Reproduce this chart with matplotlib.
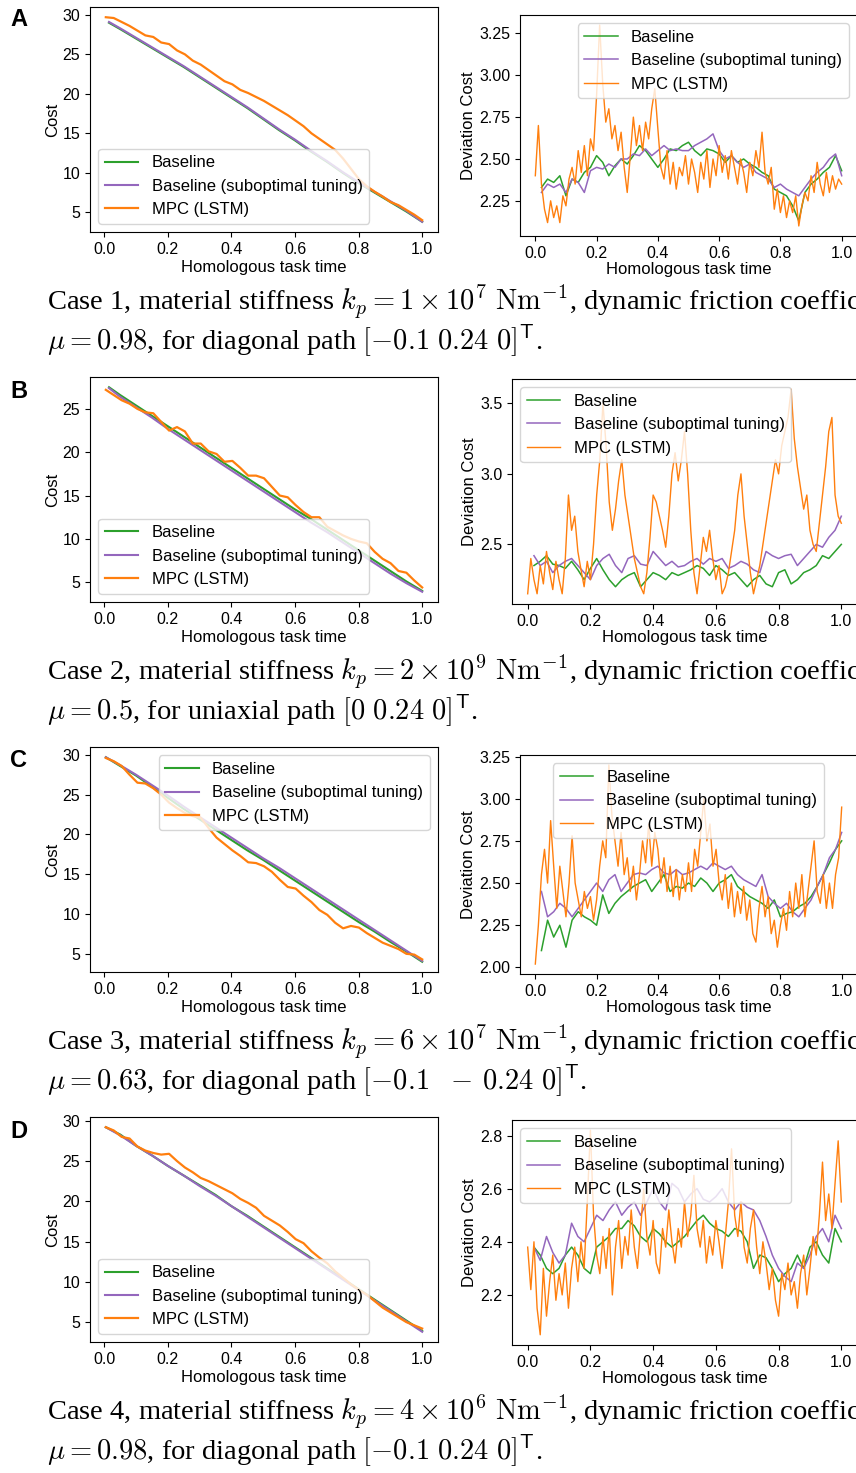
import numpy as np
import matplotlib.pyplot as plt

plt.rcParams['font.family'] = ['Liberation Sans', 'DejaVu Sans']
plt.rcParams['mathtext.fontset'] = 'cm'

# ---------------- data ----------------
labels = ["Baseline", "Baseline (suboptimal tuning)", "MPC (LSTM)"]
colors = ["#2ca02c", "#9467bd", "#ff7f0e"]

x_ticks = [0.0, 0.2, 0.4, 0.6, 0.8, 1.0]
cost_ticks = [5, 10, 15, 20, 25, 30]
cost_ticks_b = [5, 10, 15, 20, 25]
dev_ticks_a = [2.25, 2.50, 2.75, 3.00, 3.25]
dev_ticks_b = [2.5, 3.0, 3.5]
dev_ticks_c = [2.00, 2.25, 2.50, 2.75, 3.00, 3.25]
dev_ticks_d = [2.2, 2.4, 2.6, 2.8]

# time axes (homologous task time)
t_cost_base_ab = np.array([0.015] + [0.05 * i for i in range(1, 21)])
t_cost_base_cd = np.array([0.005] + [0.05 * i for i in range(1, 21)])
t_cost_mpc = np.linspace(0.005, 1.0, 41)
t_dev_base = np.arange(1, 51) * 0.02
t_dev_mpc = np.arange(0, 101) * 0.01

# case 1
cost_a_base = [29.0, 28.2, 27.0, 25.8, 24.6, 23.4, 22.1, 20.8, 19.5, 18.2, 16.8,
               15.4, 14.1, 12.7, 11.4, 10.0, 8.7, 7.5, 6.3, 5.1, 3.8]
cost_a_sub = [29.1, 28.3, 27.1, 25.9, 24.7, 23.5, 22.2, 20.9, 19.6, 18.3, 16.9,
              15.5, 14.2, 12.8, 11.5, 10.1, 8.8, 7.6, 6.4, 5.2, 3.8]
cost_a_mpc = [29.7, 29.6, 29.1, 28.6, 28.0, 27.4, 27.2, 26.5, 26.3, 25.5, 25.0,
              24.2, 23.7, 23.0, 22.3, 21.6, 21.2, 20.5, 20.1, 19.6, 19.1, 18.5,
              17.9, 17.3, 16.6, 15.9, 15.0, 14.3, 13.6, 12.9, 11.8, 10.5, 9.2,
              8.3, 7.6, 7.0, 6.3, 5.9, 5.3, 4.7, 4.0]
dev_a_base = [2.33, 2.38, 2.36, 2.40, 2.28, 2.38, 2.36, 2.42, 2.45, 2.52,
              2.48, 2.40, 2.46, 2.50, 2.47, 2.52, 2.58, 2.55, 2.50, 2.45,
              2.50, 2.56, 2.55, 2.58, 2.60, 2.55, 2.52, 2.56, 2.55, 2.53,
              2.48, 2.52, 2.48, 2.50, 2.47, 2.45, 2.42, 2.40, 2.32, 2.30,
              2.28, 2.22, 2.13, 2.30, 2.35, 2.38, 2.42, 2.45, 2.52, 2.43]
dev_a_sub = [2.30, 2.35, 2.33, 2.35, 2.30, 2.38, 2.36, 2.30, 2.43, 2.45,
             2.44, 2.47, 2.45, 2.50, 2.50, 2.53, 2.52, 2.56, 2.52, 2.55,
             2.58, 2.55, 2.56, 2.55, 2.55, 2.58, 2.60, 2.62, 2.65, 2.55,
             2.50, 2.52, 2.48, 2.45, 2.47, 2.42, 2.40, 2.38, 2.33, 2.35,
             2.32, 2.30, 2.28, 2.33, 2.38, 2.42, 2.45, 2.50, 2.53, 2.40]
dev_a_mpc = [2.40, 2.70, 2.35, 2.20, 2.12, 2.25, 2.15, 2.22, 2.12, 2.28,
             2.22, 2.38, 2.45, 2.35, 2.55, 2.42, 2.58, 2.40, 2.62, 2.55,
             2.88, 3.30, 2.95, 2.72, 2.80, 2.62, 2.70, 2.55, 2.66, 2.45,
             2.30, 2.52, 2.75, 2.58, 2.70, 2.55, 2.72, 2.62, 2.80, 2.92,
             2.68, 2.45, 2.38, 2.55, 2.35, 2.48, 2.32, 2.45, 2.40, 2.52,
             2.35, 2.50, 2.42, 2.30, 2.48, 2.38, 2.55, 2.33, 2.50, 2.40,
             2.58, 2.42, 2.52, 2.38, 2.55, 2.45, 2.35, 2.50, 2.42, 2.30,
             2.48, 2.40, 2.55, 2.45, 2.66, 2.42, 2.35, 2.45, 2.20, 2.32,
             2.18, 2.28, 2.15, 2.25, 2.18, 2.28, 2.10, 2.22, 2.30, 2.25,
             2.40, 2.30, 2.48, 2.35, 2.28, 2.42, 2.30, 2.40, 2.32, 2.38, 2.35]

# case 2
cost_b_base = [27.5, 26.6, 25.4, 24.2, 23.0, 21.8, 20.6, 19.4, 18.2, 17.0, 15.8,
               14.6, 13.4, 12.3, 11.1, 9.9, 8.7, 7.5, 6.3, 5.1, 4.0]
cost_b_sub = [27.4, 26.4, 25.2, 24.0, 22.7, 21.5, 20.3, 19.1, 17.9, 16.7, 15.5,
              14.3, 13.1, 11.9, 10.8, 9.6, 8.4, 7.2, 6.0, 4.9, 3.9]
cost_b_mpc = [27.2, 26.6, 26.0, 25.6, 25.0, 24.6, 24.5, 23.5, 22.5, 22.9, 22.4,
              21.0, 21.0, 20.1, 19.8, 18.9, 19.0, 18.2, 17.3, 17.3, 17.0, 16.0,
              15.0, 14.8, 13.9, 13.1, 12.5, 12.5, 11.4, 10.9, 10.4, 10.0, 9.7,
              9.5, 8.5, 7.7, 7.2, 6.3, 6.1, 5.2, 4.4]
dev_b_base = [2.35, 2.38, 2.42, 2.36, 2.35, 2.33, 2.38, 2.32, 2.25, 2.33,
              2.40, 2.32, 2.25, 2.20, 2.25, 2.28, 2.30, 2.20, 2.25, 2.30,
              2.28, 2.25, 2.30, 2.28, 2.30, 2.32, 2.35, 2.33, 2.28, 2.35,
              2.32, 2.28, 2.30, 2.25, 2.20, 2.25, 2.28, 2.22, 2.20, 2.30,
              2.32, 2.22, 2.25, 2.30, 2.32, 2.35, 2.42, 2.40, 2.45, 2.50]
dev_b_sub = [2.42, 2.35, 2.38, 2.30, 2.35, 2.38, 2.40, 2.35, 2.30, 2.25,
             2.35, 2.40, 2.43, 2.35, 2.30, 2.40, 2.42, 2.36, 2.35, 2.45,
             2.40, 2.35, 2.38, 2.34, 2.35, 2.38, 2.40, 2.36, 2.40, 2.38,
             2.40, 2.33, 2.35, 2.38, 2.36, 2.32, 2.30, 2.45, 2.42, 2.40,
             2.42, 2.43, 2.35, 2.40, 2.45, 2.50, 2.48, 2.55, 2.60, 2.70]
dev_b_mpc = [2.15, 2.40, 2.25, 2.15, 2.35, 2.22, 2.45, 2.30, 2.18, 2.38,
             2.25, 2.15, 2.40, 2.85, 2.60, 2.70, 2.45, 2.32, 2.20, 2.38,
             2.25, 2.50, 2.85, 3.10, 3.50, 3.20, 2.80, 2.60, 2.75, 2.95,
             3.10, 2.85, 2.70, 2.55, 2.40, 2.30, 2.20, 2.15, 2.30, 2.55,
             2.85, 2.80, 2.70, 2.60, 2.48, 2.70, 3.00, 3.15, 2.95, 3.10,
             3.30, 3.00, 2.60, 2.30, 2.15, 2.35, 2.55, 2.45, 2.60, 2.40,
             2.25, 2.35, 2.15, 2.20, 2.30, 2.45, 2.60, 2.85, 3.00, 2.70,
             2.50, 2.30, 2.15, 2.25, 2.35, 2.50, 2.65, 2.80, 2.95, 3.10,
             3.00, 3.20, 3.30, 3.40, 3.60, 3.25, 3.05, 2.90, 2.75, 2.85,
             2.60, 2.50, 2.45, 2.65, 2.85, 3.05, 3.30, 3.40, 2.85, 2.70, 2.65]

# case 3
cost_c_base = [29.7, 28.6, 27.4, 26.0, 24.6, 23.2, 21.9, 20.6, 19.3, 18.0, 16.8,
               15.5, 14.2, 12.9, 11.6, 10.3, 9.0, 7.8, 6.5, 5.3, 4.0]
cost_c_sub = [29.7, 28.7, 27.5, 26.2, 24.9, 23.5, 22.2, 20.9, 19.6, 18.3, 17.0,
              15.8, 14.5, 13.2, 11.9, 10.6, 9.3, 8.0, 6.7, 5.4, 4.1]
cost_c_mpc = [29.6, 29.2, 28.6, 27.5, 26.5, 26.4, 25.8, 25.0, 24.0, 23.3, 22.7,
              22.3, 22.1, 20.8, 19.6, 18.8, 18.0, 17.3, 16.5, 16.4, 16.0, 15.3,
              14.3, 13.4, 13.2, 12.3, 11.5, 10.5, 9.9, 8.9, 8.2, 8.5, 8.3, 7.6,
              7.0, 6.4, 6.0, 5.6, 5.0, 4.9, 4.3]
dev_c_base = [2.10, 2.28, 2.18, 2.25, 2.12, 2.28, 2.33, 2.30, 2.28, 2.25,
              2.43, 2.32, 2.38, 2.42, 2.45, 2.48, 2.50, 2.52, 2.45, 2.50,
              2.55, 2.45, 2.48, 2.47, 2.50, 2.48, 2.53, 2.50, 2.45, 2.50,
              2.52, 2.55, 2.48, 2.45, 2.42, 2.40, 2.38, 2.35, 2.40, 2.30,
              2.32, 2.33, 2.36, 2.38, 2.42, 2.48, 2.55, 2.62, 2.70, 2.75]
dev_c_sub = [2.45, 2.30, 2.33, 2.38, 2.35, 2.30, 2.35, 2.40, 2.45, 2.50,
             2.45, 2.52, 2.55, 2.45, 2.50, 2.55, 2.56, 2.55, 2.58, 2.60,
             2.56, 2.55, 2.58, 2.55, 2.56, 2.58, 2.60, 2.58, 2.62, 2.60,
             2.58, 2.60, 2.55, 2.52, 2.50, 2.48, 2.55, 2.42, 2.38, 2.35,
             2.38, 2.33, 2.30, 2.35, 2.40, 2.48, 2.55, 2.65, 2.70, 2.80]
dev_c_mpc = [2.02, 2.25, 2.55, 2.70, 2.50, 2.87, 2.60, 2.35, 2.60, 2.45,
             2.30, 2.50, 2.78, 2.50, 2.40, 2.30, 2.45, 2.35, 2.42, 2.28,
             2.40, 2.60, 2.75, 2.65, 3.20, 2.90, 2.75, 2.60, 2.80, 2.55,
             2.65, 2.45, 2.60, 2.40, 2.55, 2.75, 2.62, 2.85, 2.60, 2.80,
             2.70, 2.50, 2.65, 2.45, 2.60, 2.42, 2.58, 2.40, 2.55, 2.45,
             2.62, 2.45, 2.70, 2.60, 2.80, 3.00, 2.75, 2.85, 2.60, 2.70,
             2.50, 2.40, 2.55, 2.35, 2.50, 2.30, 2.45, 2.32, 2.48, 2.28,
             2.40, 2.20, 2.15, 2.35, 2.48, 2.30, 2.42, 2.20, 2.28, 2.12,
             2.25, 2.35, 2.22, 2.45, 2.30, 2.50, 2.35, 2.55, 2.30, 2.45,
             2.60, 2.75, 2.45, 2.38, 2.55, 2.35, 2.50, 2.35, 2.55, 2.65, 2.95]

# case 4
cost_d_base = [29.2, 28.3, 26.9, 25.7, 24.4, 23.2, 22.0, 20.8, 19.4, 18.2, 16.9,
               15.6, 14.3, 13.0, 11.7, 10.4, 9.1, 7.8, 6.5, 5.2, 3.9]
cost_d_sub = [29.2, 28.2, 26.9, 25.7, 24.4, 23.2, 21.9, 20.7, 19.4, 18.1, 16.8,
              15.5, 14.2, 12.9, 11.6, 10.3, 9.0, 7.7, 6.4, 5.1, 3.8]
cost_d_mpc = [29.2, 28.8, 28.0, 27.8, 26.8, 26.3, 26.0, 25.8, 25.9, 25.0, 24.2,
              23.6, 22.9, 22.5, 22.0, 21.5, 21.0, 20.3, 19.8, 19.2, 18.2, 17.6,
              17.0, 16.2, 15.3, 14.8, 13.8, 13.0, 12.3, 11.3, 10.5, 9.7, 9.0,
              8.4, 7.6, 6.8, 6.2, 5.6, 5.0, 4.6, 4.2]
dev_d_base = [2.38, 2.35, 2.30, 2.28, 2.30, 2.35, 2.38, 2.35, 2.30, 2.28,
              2.38, 2.40, 2.42, 2.45, 2.45, 2.48, 2.46, 2.42, 2.40, 2.45,
              2.43, 2.40, 2.38, 2.40, 2.42, 2.45, 2.48, 2.50, 2.47, 2.45,
              2.44, 2.42, 2.45, 2.44, 2.40, 2.30, 2.35, 2.34, 2.30, 2.25,
              2.28, 2.30, 2.35, 2.30, 2.38, 2.40, 2.35, 2.32, 2.45, 2.40]
dev_d_sub = [2.38, 2.33, 2.42, 2.36, 2.32, 2.35, 2.47, 2.42, 2.40, 2.45,
             2.50, 2.48, 2.52, 2.55, 2.50, 2.53, 2.55, 2.50, 2.55, 2.60,
             2.55, 2.52, 2.62, 2.60, 2.55, 2.58, 2.60, 2.56, 2.55, 2.57,
             2.60, 2.55, 2.52, 2.55, 2.53, 2.52, 2.48, 2.42, 2.35, 2.30,
             2.27, 2.25, 2.32, 2.30, 2.35, 2.42, 2.45, 2.40, 2.50, 2.45]
dev_d_mpc = [2.38, 2.22, 2.40, 2.15, 2.05, 2.30, 2.12, 2.25, 2.35, 2.18,
             2.28, 2.20, 2.32, 2.15, 2.30, 2.38, 2.25, 2.40, 2.30, 2.55,
             2.82, 2.50, 2.35, 2.28, 2.42, 2.30, 2.45, 2.20, 2.38, 2.48,
             2.30, 2.42, 2.35, 2.52, 2.38, 2.30, 2.45, 2.60, 2.42, 2.35,
             2.48, 2.32, 2.28, 2.45, 2.38, 2.52, 2.40, 2.32, 2.45, 2.38,
             2.55, 2.42, 2.50, 2.65, 2.45, 2.38, 2.48, 2.32, 2.42, 2.35,
             2.48, 2.40, 2.30, 2.42, 2.55, 2.75, 2.50, 2.42, 2.55, 2.38,
             2.32, 2.45, 2.52, 2.38, 2.28, 2.40, 2.32, 2.22, 2.30, 2.18,
             2.12, 2.28, 2.22, 2.32, 2.20, 2.25, 2.15, 2.28, 2.35, 2.20,
             2.30, 2.42, 2.35, 2.50, 2.70, 2.48, 2.58, 2.45, 2.62, 2.78, 2.55]

captions = [
    [r"Case 1, material stiffness $k_p = 1 \times 10^7\ \mathrm{Nm}^{-1}$, dynamic friction coefficient",
     r"$\mu = 0.98$, for diagonal path $[-0.1\ 0.24\ 0]^{\mathsf{T}}$."],
    [r"Case 2, material stiffness $k_p = 2 \times 10^9\ \mathrm{Nm}^{-1}$, dynamic friction coefficient",
     r"$\mu = 0.5$, for uniaxial path $[0\ 0.24\ 0]^{\mathsf{T}}$."],
    [r"Case 3, material stiffness $k_p = 6 \times 10^7\ \mathrm{Nm}^{-1}$, dynamic friction coefficient",
     r"$\mu = 0.63$, for diagonal path $[-0.1\ \ -\,0.24\ 0]^{\mathsf{T}}$."],
    [r"Case 4, material stiffness $k_p = 4 \times 10^6\ \mathrm{Nm}^{-1}$, dynamic friction coefficient",
     r"$\mu = 0.98$, for diagonal path $[-0.1\ 0.24\ 0]^{\mathsf{T}}$."],
]
panel_letters = ["A", "B", "C", "D"]

# ---------------- layout (pixels) ----------------
W, H = 856, 1473
left_boxes = [(90, 7, 438, 232), (90, 377, 438, 602), (90, 747, 438, 972), (90, 1117, 438, 1342)]
right_boxes = [(520, 15, 857, 236), (512, 379, 857, 604), (520, 755, 857, 974), (512, 1120, 857, 1345)]
left_legend = ["lower left", "lower left", "upper right", "lower left"]
right_legend = ["upper right", "upper left", "upper center", "upper left"]
letter_y = [20, 391, 761, 1131]
caption_y = [310, 680, 1050, 1420]


def frac(box):
    l, t, r, b = box
    return [l / W, 1 - b / H, (r - l) / W, (b - t) / H]


costs = [(cost_a_base, cost_a_sub, cost_a_mpc), (cost_b_base, cost_b_sub, cost_b_mpc),
         (cost_c_base, cost_c_sub, cost_c_mpc), (cost_d_base, cost_d_sub, cost_d_mpc)]
devs = [(dev_a_base, dev_a_sub, dev_a_mpc), (dev_b_base, dev_b_sub, dev_b_mpc),
        (dev_c_base, dev_c_sub, dev_c_mpc), (dev_d_base, dev_d_sub, dev_d_mpc)]
cost_yt = [cost_ticks, cost_ticks_b, cost_ticks, cost_ticks]
dev_yt = [dev_ticks_a, dev_ticks_b, dev_ticks_c, dev_ticks_d]
base_t = [t_cost_base_ab, t_cost_base_ab, t_cost_base_cd, t_cost_base_cd]

fig = plt.figure(figsize=(W / 100, H / 100), dpi=100)

for i in range(4):
    # cost plot
    ax = fig.add_axes(frac(left_boxes[i]))
    base, sub, mpc = costs[i]
    ax.plot(base_t[i], base, color=colors[0], lw=1.5, label=labels[0])
    ax.plot(base_t[i], sub, color=colors[1], lw=1.5, label=labels[1])
    ax.plot(t_cost_mpc, mpc, color=colors[2], lw=1.6, label=labels[2])
    ax.set_xticks(x_ticks)
    ax.set_yticks(cost_yt[i])
    ax.tick_params(labelsize=11.5)
    ax.set_xlabel("Homologous task time", fontsize=12, labelpad=2.5)
    ax.set_ylabel("Cost", fontsize=12, labelpad=2)
    ax.legend(loc=left_legend[i], fontsize=12)

    # deviation plot
    ax = fig.add_axes(frac(right_boxes[i]))
    base, sub, mpc = devs[i]
    ax.plot(t_dev_base, base, color=colors[0], lw=1.1, label=labels[0])
    ax.plot(t_dev_base, sub, color=colors[1], lw=1.1, label=labels[1])
    ax.plot(t_dev_mpc, mpc, color=colors[2], lw=1.0, label=labels[2])
    ax.set_xticks(x_ticks)
    ax.set_yticks(dev_yt[i])
    ax.tick_params(labelsize=11.5)
    ax.set_xlabel("Homologous task time", fontsize=12, labelpad=1)
    ax.set_ylabel("Deviation Cost", fontsize=12, labelpad=2)
    ax.legend(loc=right_legend[i], fontsize=12)

    fig.text(10 / W, 1 - letter_y[i] / H, panel_letters[i], fontsize=17,
             fontweight="bold", va="center", ha="left")
    # the caption runs past the right edge in the reference, as here
    fig.text(47 / W, 1 - caption_y[i] / H, captions[i][0], fontsize=20.5,
             family="Liberation Serif", va="baseline", ha="left")
    fig.text(47 / W, 1 - (caption_y[i] + 40) / H, captions[i][1], fontsize=20.5,
             family="Liberation Serif", va="baseline", ha="left")

fig.savefig("out.png", dpi=100)
